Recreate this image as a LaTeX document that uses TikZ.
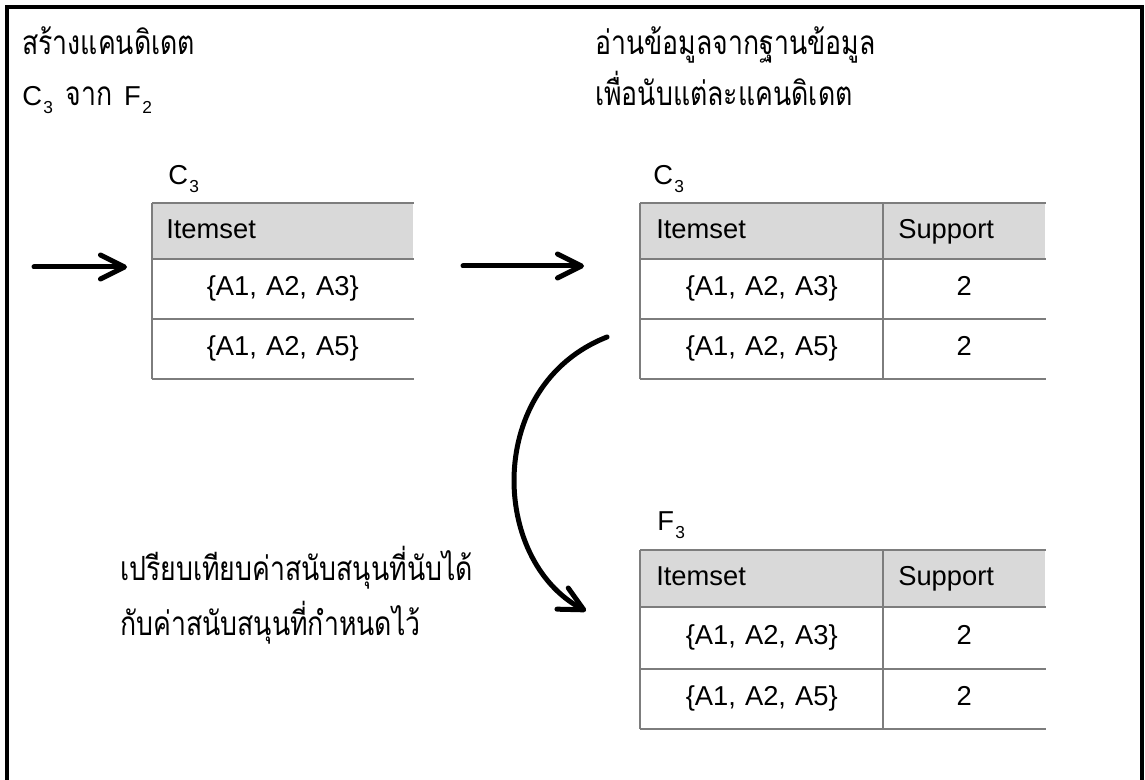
\documentclass[tikz,border=0pt]{standalone}
\usepackage{fontspec}
\setmainfont{Liberation Sans}
\newfontfamily\thaifont[Script=Thai, FakeStretch=0.8]{Loma}
\usetikzlibrary{arrows.meta}
\newdimen\pxu \pxu=0.75pt
\definecolor{hdrgray}{RGB}{217,217,217}
\definecolor{rulegray}{RGB}{125,125,125}
% lowered index digit, as in C3 / F2
\newcommand\idx[1]{\hspace{1pt}\raisebox{-6pt}{\fontsize{13}{13}\selectfont #1}}
\newcommand\thaisize{\fontsize{25}{28}\selectfont}

\begin{document}
\begin{tikzpicture}[x=0.75pt,y=-0.75pt,
  every node/.style={font=\fontsize{20.5}{24}\selectfont, inner sep=0pt},
  thai/.style={font=\thaisize\thaifont, anchor=base west},
  caption/.style={anchor=base west},
  hdr/.style={fill=hdrgray, minimum height=55\pxu, anchor=north west, align=left,
    text height=15pt, text depth=4pt},
  cell/.style={minimum height=60\pxu, anchor=north west, align=center,
    text height=15pt, text depth=4pt},
  rule/.style={draw=rulegray, line width=1.5pt},
  flow/.style={line width=3.75pt, line cap=round, line join=round,
    -{Straight Barb[length=18pt,width=18pt,line cap=round,line join=round]}}
]
\useasboundingbox (0,0) rectangle (1145,780);

% outer frame (open at the bottom edge)
\draw[line width=3pt] (7,800) -- (7,7) -- (1142,7) -- (1142,800);

% headings
\node[thai] (t1) at (22,55) {สร้างแคนดิเดต};
\node[caption] (t2) at (22,106) {C\idx{3}\hspace{4pt} {\thaifont\thaisize จาก}\hspace{3pt} F\idx{2}};
\node[thai] (t3) at (595,55) {อ่านข้อมูลจากฐานข้อมูล};
\node[thai] (t4) at (595,106) {เพื่อนับแต่ละแคนดิเดต};
\node[thai] (t5) at (120,580) {เปรียบเทียบค่าสนับสนุนที่นับได้};
\node[thai] (t6) at (120,635) {กับค่าสนับสนุนที่กำหนดไว้};

% candidate table C3 (left)
\node[caption] (ca-name) at (168,185) {C\idx{3}};
\node[hdr, text width=261\pxu] (ca-h) at (152,203) {\hspace*{14\pxu}Itemset};
\node[cell, text width=261\pxu] (ca-r1) at (152,258) {\{A1, A2, A3\}};
\node[cell, text width=261\pxu] (ca-r2) at (152,318) {\{A1, A2, A5\}};
\foreach \n in {ca-h,ca-r1,ca-r2}{\draw[rule] (\n.south west) -- (\n.south east);}
\draw[rule] (ca-h.north west) -- (ca-h.north east);
\draw[rule] (ca-h.north west) -- (ca-r2.south west);

% counted table C3 (right)
\node[caption] (cb-name) at (653,185) {C\idx{3}};
\node[hdr, text width=243\pxu] (cb-h1) at (640,203) {\hspace*{16\pxu}Itemset};
\node[hdr, text width=162\pxu] (cb-h2) at (883,203) {\hspace*{15\pxu}Support};
\node[cell, text width=243\pxu] (cb-a1) at (640,258) {\{A1, A2, A3\}};
\node[cell, text width=162\pxu] (cb-b1) at (883,258) {2};
\node[cell, text width=243\pxu] (cb-a2) at (640,318) {\{A1, A2, A5\}};
\node[cell, text width=162\pxu] (cb-b2) at (883,318) {2};
\foreach \l/\r in {cb-h1/cb-h2,cb-a1/cb-b1,cb-a2/cb-b2}{\draw[rule] (\l.south west) -- (\r.south east);}
\draw[rule] (cb-h1.north west) -- (cb-h2.north east);
\draw[rule] (cb-h1.north west) -- (cb-a2.south west);
\draw[rule] (cb-h2.north west) -- (cb-b2.south west);

% frequent table F3
\node[caption] (fc-name) at (657,530) {F\idx{3}};
\node[hdr, text width=243\pxu, minimum height=56\pxu] (fc-h1) at (640,550) {\hspace*{16\pxu}Itemset};
\node[hdr, text width=162\pxu, minimum height=56\pxu] (fc-h2) at (883,550) {\hspace*{15\pxu}Support};
\node[cell, text width=243\pxu, minimum height=62\pxu] (fc-a1) at (640,606) {\{A1, A2, A3\}};
\node[cell, text width=162\pxu, minimum height=62\pxu] (fc-b1) at (883,606) {2};
\node[cell, text width=243\pxu] (fc-a2) at (640,668) {\{A1, A2, A5\}};
\node[cell, text width=162\pxu] (fc-b2) at (883,668) {2};
\foreach \l/\r in {fc-h1/fc-h2,fc-a1/fc-b1,fc-a2/fc-b2}{\draw[rule] (\l.south west) -- (\r.south east);}
\draw[rule] (fc-h1.north west) -- (fc-h2.north east);
\draw[rule] (fc-h1.north west) -- (fc-a2.south west);
\draw[rule] (fc-h2.north west) -- (fc-b2.south west);

% flow arrows
\coordinate (in-s) at (34,267);
\coordinate (in-e) at (127,267);
\coordinate (mid-s) at (463,266);
\coordinate (mid-e) at (584,266);
\coordinate (cmp-s) at (607,337);
\coordinate (cmp-e) at (586,611);
\draw[flow] (in-s) -- (in-e);
\draw[flow] (mid-s) -- (mid-e);
\draw[flow] (cmp-s) .. controls (485,385) and (490,560) .. (cmp-e);
\end{tikzpicture}
\end{document}
